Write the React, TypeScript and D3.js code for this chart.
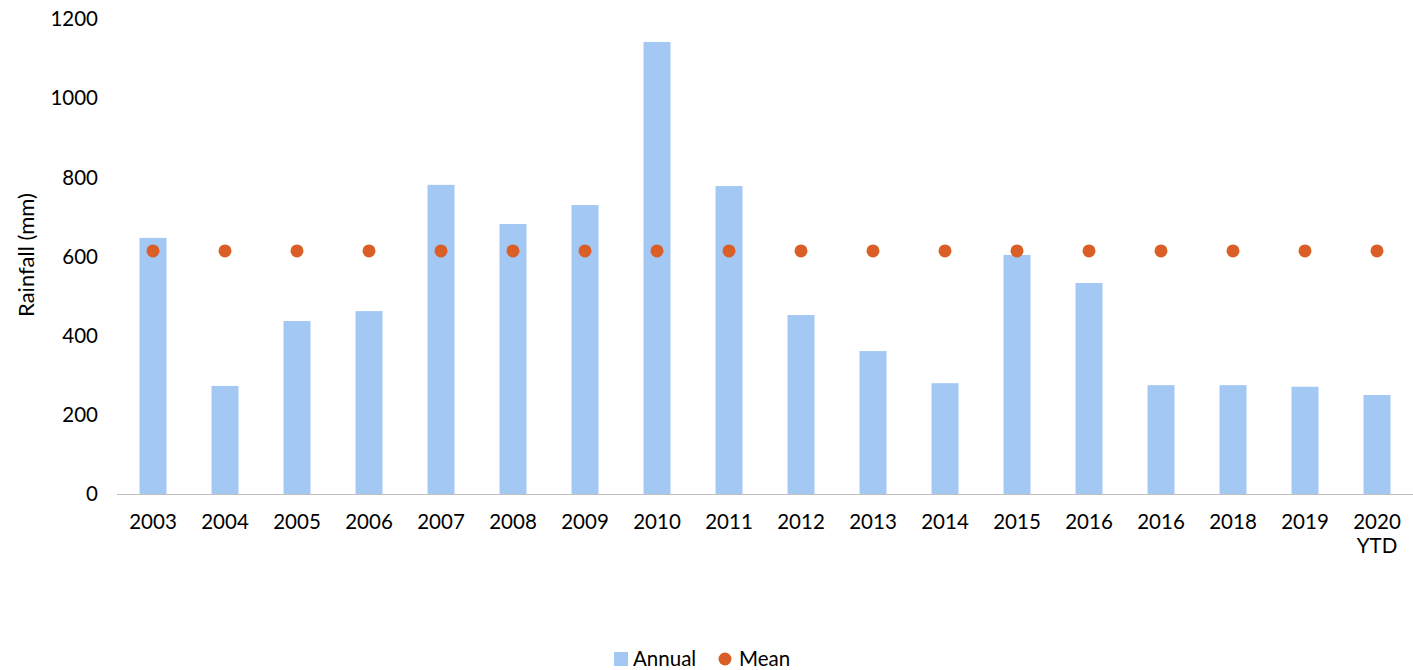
import React from "react";
import * as d3 from "d3";

const categories = ["2003","2004","2005","2006","2007","2008","2009","2010","2011","2012","2013","2014","2015","2016","2016","2018","2019","2020\nYTD"];
const annual = [647, 273, 437, 462, 781, 682, 730, 1142, 778, 452, 361, 280, 604, 533, 275, 275, 271, 250];
const mean = [614, 614, 614, 614, 614, 614, 614, 614, 614, 614, 614, 614, 614, 614, 614, 614, 614, 614];
const yTicks = [0, 200, 400, 600, 800, 1000, 1200];

const W = 1413, H = 670;
const left = 117, right = 1413, top = 19, bottom = 494;
const font = "Lato, 'Open Sans', sans-serif";
const fs = 20.5;

export default function App() {
  const idx = categories.map((_, i) => String(i));
  const x = d3.scaleBand<string>().domain(idx).range([left, right]).paddingInner(0.625).paddingOuter(0.3125);
  const y = d3.scaleLinear().domain([0, 1200]).range([bottom, top]);
  const bw = x.bandwidth();
  return (
    <svg width={W} height={H} style={{ position: "absolute", left: 0, top: 0 }} fontFamily={font}>
      <rect width={W} height={H} fill="#fff" />
      {yTicks.map(t => (
        <text key={t} x={98} y={y(t)} dy="0.35em" textAnchor="end" fontSize={fs} fill="#000">{t}</text>
      ))}
      {annual.map((v, i) => (
        <rect key={i} x={x(String(i))!} y={y(v)} width={bw} height={y(0) - y(v)} fill="#a4c8f4" />
      ))}
      <line x1={left} x2={right} y1={bottom + 0.5} y2={bottom + 0.5} stroke="#bfbfbf" strokeWidth={1} />
      {mean.map((v, i) => (
        <circle key={i} cx={x(String(i))! + bw / 2} cy={y(v)} r={6.5} fill="#d95f26" />
      ))}
      {categories.map((c, i) => (
        <text key={i} x={x(String(i))! + bw / 2} y={529} textAnchor="middle" fontSize={fs} fill="#000">
          {c.split("\n").map((line, j) => (
            <tspan key={j} x={x(String(i))! + bw / 2} dy={j === 0 ? 0 : 24}>{line}</tspan>
          ))}
        </text>
      ))}
      <text transform={`translate(34, 255) rotate(-90)`} textAnchor="middle" fontSize={22} fill="#000">Rainfall (mm)</text>
      <g>
        <rect x={614} y={652} width={14} height={14} fill="#a4c8f4" />
        <text x={633} y={666} fontSize={fs} fill="#000">Annual</text>
        <circle cx={725} cy={659} r={6.5} fill="#d95f26" />
        <text x={739} y={666} fontSize={fs} fill="#000">Mean</text>
      </g>
    </svg>
  );
}
